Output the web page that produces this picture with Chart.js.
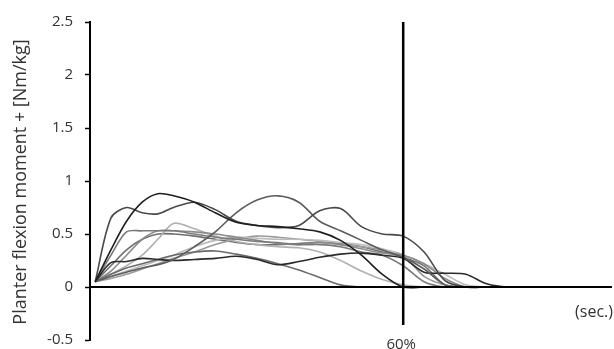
<!DOCTYPE html>
<html><head><meta charset="utf-8">
<script src="https://cdn.jsdelivr.net/npm/chart.js@4"></script>
<style>html,body{margin:0;padding:0;background:#fff}#wrap{width:614px;height:349px}</style>
</head><body><div id="wrap"><canvas id="c" width="614" height="349"></canvas></div>
<script>
// time axis in % of stance (60% marked)
const xPct = [1, 4, 7, 10, 13, 16, 20, 24, 28, 32, 36, 40, 44, 48, 52, 56, 60, 64, 68, 72, 76, 80, 90, 100];
const sA = [0.05,0.35,0.62,0.80,0.88,0.86,0.80,0.70,0.61,0.58,0.57,0.55,0.52,0.44,0.30,0.12,0.00,0,0,0,0,0,0,0];
const sB = [0.05,0.65,0.75,0.70,0.69,0.75,0.80,0.73,0.62,0.58,0.56,0.58,0.72,0.74,0.57,0.50,0.48,0.33,0.06,0,0,0,0,0];
const sC = [0.05,0.10,0.14,0.18,0.21,0.26,0.38,0.52,0.70,0.82,0.86,0.80,0.62,0.53,0.44,0.35,0.28,0.17,0.02,0,0,0,0,0];
const sD = [0.05,0.23,0.24,0.27,0.26,0.25,0.26,0.27,0.29,0.26,0.21,0.24,0.28,0.31,0.32,0.30,0.27,0.14,0.13,0.12,0.03,0,0,0];
const sE = [0.05,0.12,0.18,0.22,0.26,0.30,0.33,0.34,0.31,0.27,0.22,0.16,0.09,0.02,0,0,0,0,0,0,0,0,0,0];
const sF = [0.05,0.30,0.52,0.53,0.53,0.53,0.50,0.47,0.45,0.43,0.42,0.40,0.40,0.38,0.33,0.30,0.20,0.05,0,0,0,0,0,0];
const sG = [0.05,0.15,0.30,0.45,0.53,0.53,0.52,0.50,0.47,0.44,0.41,0.40,0.42,0.40,0.36,0.32,0.30,0.22,0.08,0,0,0,0,0];
const sH = [0.05,0.12,0.20,0.30,0.45,0.60,0.55,0.48,0.43,0.40,0.38,0.37,0.33,0.25,0.15,0.07,0.02,0,0,0,0,0,0,0];
const sI = [0.05,0.10,0.15,0.20,0.25,0.30,0.38,0.44,0.47,0.46,0.45,0.45,0.44,0.42,0.40,0.36,0.30,0.22,0.12,0.02,0,0,0,0];
const sJ = [0.05,0.08,0.12,0.17,0.22,0.27,0.33,0.40,0.45,0.48,0.47,0.45,0.43,0.40,0.38,0.35,0.30,0.10,0.02,0,0,0,0,0];
const sK = [0.05,0.20,0.35,0.45,0.50,0.50,0.48,0.45,0.42,0.40,0.40,0.41,0.42,0.41,0.38,0.33,0.28,0.20,0.02,0,0,0,0,0];
const yTicks = [-0.5, 0, 0.5, 1, 1.5, 2, 2.5];
const yTitle = 'Planter flexion moment + [Nm/kg]';
const markPct = 60;

const series = [
  [sA,'#1e1e1e'],[sB,'#4a4a4a'],[sC,'#5c5c5c'],[sD,'#2a2a2a'],[sE,'#6a6a6a'],
  [sF,'#7a7a7a'],[sG,'#8a8a8a'],[sH,'#b0b0b0'],[sI,'#bcbcbc'],[sJ,'#9a9a9a'],[sK,'#6e6e6e']
];
const datasets = series.map(([s,col]) => ({
  data: s.map((v,i)=>({x:xPct[i], y:v})),
  borderColor: col, borderWidth: 1.6, pointRadius: 0, tension: 0.3, fill:false
}));

const FONT = 'Open Sans';
const overlay = {
  id:'overlay',
  afterDatasetsDraw(chart){
    const {ctx, scales:{x,y}} = chart;
    ctx.save();
    ctx.strokeStyle='#000'; ctx.lineWidth=2;
    ctx.beginPath(); ctx.moveTo(x.left, y.getPixelForValue(0)); ctx.lineTo(x.right, y.getPixelForValue(0)); ctx.stroke();
    const px = x.getPixelForValue(markPct);
    ctx.lineWidth=2.5;
    ctx.beginPath(); ctx.moveTo(px, y.top); ctx.lineTo(px, y.bottom-15); ctx.stroke();
    ctx.fillStyle='#333'; ctx.font='15px "'+FONT+'"';
    ctx.textAlign='center'; ctx.textBaseline='middle';
    ctx.fillText(markPct+'%', px - 2, y.bottom+5);
    ctx.textAlign='right';
    ctx.font='16px "'+FONT+'"';
    ctx.fillText('(sec.)', x.right + 1, y.getPixelForValue(-0.24));
    ctx.translate(21, (y.top+y.bottom)/2 + 1);
    ctx.rotate(-Math.PI/2);
    ctx.textAlign='center';
    ctx.font='18px "'+FONT+'"';
    ctx.fillText(yTitle, 0, 0);
    ctx.restore();
  }
};

new Chart(document.getElementById('c'), {
  type:'line',
  data:{datasets},
  options:{
    responsive:false, animation:false,
    layout:{padding:{left:0, top:22, right:2, bottom:9}},
    plugins:{legend:{display:false}, tooltip:{enabled:false}},
    scales:{
      x:{type:'linear', min:0, max:100, display:false},
      y:{min:-0.5, max:2.5,
        afterBuildTicks(s){ s.ticks = yTicks.map(v=>({value:v})); },
        afterFit(s){ s.width = 90; s.paddingTop = 0; s.paddingBottom = 0; },
        ticks:{color:'#333', font:{family:FONT, size:15}, padding:12, callback:v=>String(v)},
        grid:{drawOnChartArea:false, color:'#000', tickLength:5, tickWidth:1.5},
        border:{color:'#000', width:2}
      }
    }
  },
  plugins:[overlay]
});
</script></body></html>
